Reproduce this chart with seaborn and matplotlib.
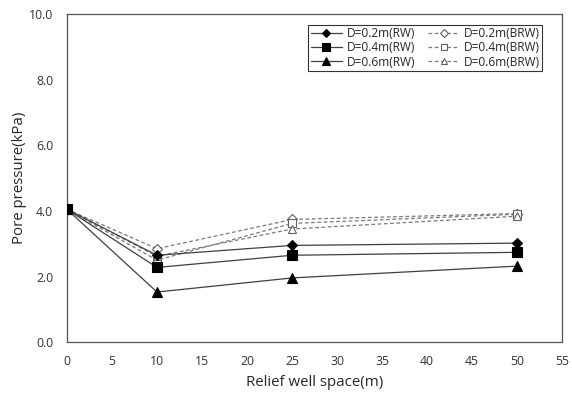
import numpy as np
import pandas as pd
import matplotlib
matplotlib.use("Agg")
import matplotlib.pyplot as plt
import seaborn as sns

# Relief well spacing (m)
spacing = [0, 10, 25, 50]

# Pore pressure (kPa)
rw_02 = [4.05, 2.65, 2.95, 3.02]
rw_04 = [4.05, 2.28, 2.65, 2.74]
rw_06 = [4.05, 1.53, 1.96, 2.32]
brw_02 = [4.05, 2.85, 3.74, 3.92]
brw_04 = [4.05, 2.50, 3.62, 3.90]
brw_06 = [4.05, 2.62, 3.45, 3.84]

labels = ["D=0.2m(RW)", "D=0.4m(RW)", "D=0.6m(RW)",
          "D=0.2m(BRW)", "D=0.4m(BRW)", "D=0.6m(BRW)"]
series = [rw_02, rw_04, rw_06, brw_02, brw_04, brw_06]

sns.set_style("white")
plt.rcParams['font.family'] = ['Open Sans', 'DejaVu Sans']

rows = []
for lab, vals in zip(labels, series):
    for x, v in zip(spacing, vals):
        rows.append({"space": x, "pressure": v, "case": lab})
df = pd.DataFrame(rows)

fig = plt.figure(figsize=(5.72, 3.98), dpi=100)
ax = fig.add_axes([0.117, 0.14, 0.866, 0.825])

markers = ["D", "s", "^", "D", "s", "^"]
msizes = [5, 7, 7, 5, 6, 6]
# BRW drawn first so the solid RW markers sit on top
for i in [3, 4, 5, 0, 1, 2]:
    lab = labels[i]
    sub = df[df["case"] == lab]
    brw = i >= 3
    sns.lineplot(data=sub, x="space", y="pressure", ax=ax, label=lab,
                 color="#7a7a7a" if brw else "#404040",
                 linestyle=(0, (3, 2)) if brw else "-",
                 linewidth=0.9,
                 marker=markers[i], markersize=msizes[i],
                 markerfacecolor="white" if brw else "black",
                 markeredgecolor="#606060" if brw else "black",
                 markeredgewidth=0.8, zorder=2 if brw else 3)

ax.set_xlim(0, 55)
ax.set_ylim(0, 10)
ax.set_xticks(np.arange(0, 56, 5))
ax.set_yticks(np.arange(0, 10.1, 2))
ax.set_yticklabels([f"{v:.1f}" for v in np.arange(0, 10.1, 2)])
ax.tick_params(direction="in", length=4, labelsize=8.8, colors="#333333",
               width=0.8)
ax.tick_params(axis="x", pad=9)
ax.tick_params(axis="y", pad=10)
ax.set_xlabel("Relief well space(m)", fontsize=10.8, labelpad=5)
ax.set_ylabel("Pore pressure(kPa)", fontsize=10.8, labelpad=1)
for side in ["left", "bottom", "right", "top"]:
    ax.spines[side].set_color("#555555")
    ax.spines[side].set_linewidth(0.9)

handles, labs = ax.get_legend_handles_labels()
order = [labs.index(l) for l in labels]
leg = ax.legend([handles[k] for k in order], [labs[k] for k in order],
                ncol=2, loc="upper right", bbox_to_anchor=(0.972, 0.985),
                fontsize=8.6, frameon=True, fancybox=False, edgecolor="black",
                handlelength=2.6, columnspacing=1.1, labelspacing=0.1,
                borderpad=0.2, handletextpad=0.4, markerscale=0.75)
leg.get_frame().set_linewidth(0.8)

fig.savefig("out.png", dpi=100)
